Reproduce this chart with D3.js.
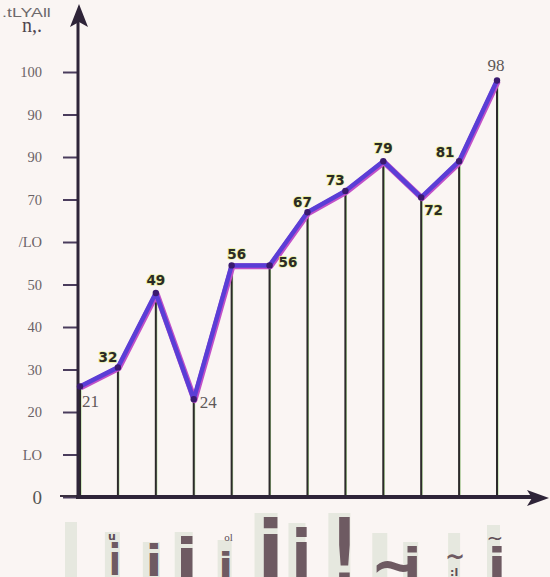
<!DOCTYPE html>
<html><head><meta charset="utf-8">
<script src="https://cdn.jsdelivr.net/npm/d3@7"></script>
<style>html,body{margin:0;padding:0;background:#faf5f3;}svg{display:block;}</style>
</head><body><svg id="c" width="550" height="577"></svg>
<script>
// ---- data ----
const categories = ["", "i", "i", "i", "i", "i", "i", "!", "~", "i", "~", "i"];
const categoryMarks = ["", "u", "", "", "ol", "", "", "", "", "", ":l", "~"];
const values = [26, 30.5, 48, 23, 54.5, 54.5, 67, 72, 79, 70.5, 79, 98];
const pointLabels = ["21", "32", "49", "24", "56", "56", "67", "73", "79", "72", "81", "98"];
const yTickValues = [0, 10, 20, 30, 40, 50, 60, 70, 80, 90, 100];
const yTickLabels = ["0", "LO", "20", "30", "40", "50", "/LO", "70", "90", "90", "100"];
const titleLines = [".tLYAll", "n,."];

// ---- styles (not data) ----
const serifIdx = new Set([0, 3, 11]);
// label offsets: [dx, dy, anchor]
const labelPos = [[2,20,"start"],[-10,-5,"middle"],[0,-8,"middle"],[6,9,"start"],[5,-6,"middle"],[9,2,"start"],[-5,-5,"middle"],[-10,-6,"middle"],[0,-8,"middle"],[3,18,"start"],[-14,-4,"middle"],[-1,-10,"middle"]];
// glyph styles: dx, fontSize, baseline, scaleX, bg:[dxc, width, top]
const glyph = [
  {dx:-9, fs:0, base:0, sx:1, bg:[-9,12,522]},
  {dx:-3, fs:42, base:575, sx:0.85, bg:[-5.5,15,532]},
  {dx:-2, fs:42, base:576, sx:1.13, bg:[-4.5,17,542]},
  {dx:-7, fs:56, base:578, sx:1.17, bg:[-10,18,532]},
  {dx:-6, fs:33, base:577, sx:1.27, bg:[-7,14,540]},
  {dx:1, fs:78, base:577, sx:1.0, bg:[-3.5,23,513]},
  {dx:-6, fs:70, base:580, sx:0.85, bg:[-10.5,17,523]},
  {dx:-1, fs:100, base:590, sx:0.6, bg:[-6,22,513]},
  {dx:12, fs:60, base:586, sx:1.0, bg:[-3.5,15,533]},
  {dx:-9, fs:47, base:581, sx:1.14, bg:[-10.5,15,542]},
  {dx:-4, fs:24, base:565, sx:1.0, bg:[-5,12,533]},
  {dx:0, fs:47, base:581, sx:1.14, bg:[-3.5,13,525]}
];

const svg = d3.select("#c");
svg.append("rect").attr("width",550).attr("height",577).attr("fill","#faf5f3");

const x = d3.scalePoint().domain(d3.range(values.length)).range([80, 497]);
const y = d3.scaleLinear().domain([0, 100]).range([497, 72]);

// title fragments
svg.append("text").attr("transform","translate(2,17) scale(1.32,1)").attr("font-family","Liberation Sans, sans-serif")
  .attr("font-size",13.5).attr("fill","#6e6a6c").text(titleLines[0]);
svg.append("text").attr("x",22).attr("y",32).attr("font-family","Liberation Serif, serif")
  .attr("font-size",20).attr("fill","#4e4650").text(titleLines[1]);

// y axis with ticks
const yAxis = d3.axisLeft(y).tickValues(yTickValues).tickSize(15).tickPadding(21)
  .tickFormat((d,i)=>yTickLabels[i]);
const gy = svg.append("g").attr("transform","translate(78,0)").call(yAxis);
gy.select(".domain").remove();
gy.selectAll(".tick line").attr("stroke","#4a3c5c").attr("stroke-width",2);
gy.selectAll(".tick text").attr("font-family","Liberation Serif, serif").attr("font-size",14.5)
  .attr("fill","#6a6266");
gy.selectAll(".tick text").filter(d=>d===0).attr("font-size",19).attr("fill","#555");

// drop lines
svg.append("g").selectAll("line").data(values).join("line")
  .attr("x1",(d,i)=>x(i)+1).attr("x2",(d,i)=>x(i)+1).attr("y1",d=>y(d)).attr("y2",497)
  .attr("stroke","#a8d890").attr("stroke-width",1);
svg.append("g").selectAll("line").data(values).join("line")
  .attr("x1",(d,i)=>x(i)).attr("x2",(d,i)=>x(i)).attr("y1",d=>y(d)).attr("y2",497)
  .attr("stroke","#2c2a2a").attr("stroke-width",2);

// axes lines
svg.append("line").attr("x1",60).attr("x2",78).attr("y1",496).attr("y2",496)
  .attr("stroke","#3a3040").attr("stroke-width",2);
svg.append("line").attr("x1",76).attr("x2",535).attr("y1",497).attr("y2",497)
  .attr("stroke","#2e2438").attr("stroke-width",4);
svg.append("line").attr("x1",78).attr("x2",78).attr("y1",20).attr("y2",499)
  .attr("stroke","#2e2438").attr("stroke-width",3);
svg.append("path").attr("d","M79,4 L88,27 L79,22 L70,27 Z").attr("fill","#2e2438");
svg.append("path").attr("d","M549,498 L527,490 L532,498 L527,506 Z").attr("fill","#2e2438");

// line
const line = d3.line().x((d,i)=>x(i)).y(d=>y(d));
svg.append("path").datum(values).attr("d",line).attr("fill","none")
  .attr("stroke","#c050c8").attr("stroke-width",6).attr("stroke-linejoin","round")
  .attr("transform","translate(0.8,0.8)");
svg.append("path").datum(values).attr("d",line).attr("fill","none")
  .attr("stroke","#5a3ed6").attr("stroke-width",4.5).attr("stroke-linejoin","round");
svg.append("g").selectAll("circle").data(values).join("circle")
  .attr("cx",(d,i)=>x(i)).attr("cy",d=>y(d)).attr("r",3.2).attr("fill","#3a1a70");

// point labels
const lab = svg.append("g").selectAll("g").data(values).join("g");
lab.each(function(d,i){
  const g = d3.select(this);
  const [dx,dy,anc] = labelPos[i];
  const t = g.append("text").attr("x",x(i)+dx).attr("y",y(d)+dy).attr("text-anchor",anc).text(pointLabels[i]);
  if (serifIdx.has(i)) {
    t.attr("font-family","Liberation Serif, serif").attr("font-size",17).attr("fill","#5e5858");
  } else {
    t.attr("font-family","DejaVu Sans, sans-serif").attr("font-weight","bold").attr("font-size",13.5)
     .attr("fill","#2a2a26").attr("stroke","#e8ee9a").attr("stroke-width",1.4).attr("paint-order","stroke");
  }
});

// garbled category labels
const cg = svg.append("g");
categories.forEach((c,i)=>{
  const s = glyph[i];
  cg.append("rect").attr("x",x(i)+s.bg[0]-s.bg[1]/2).attr("y",s.bg[2]).attr("width",s.bg[1])
    .attr("height",577-s.bg[2]).attr("fill","#e6e8df");
});
categories.forEach((c,i)=>{
  const s = glyph[i];
  if (c) {
    const cx = x(i)+s.dx;
    cg.append("text").attr("transform",`translate(${cx},${s.base}) scale(${s.sx},1)`)
      .attr("text-anchor","middle").attr("font-family","DejaVu Sans, sans-serif").attr("font-weight","bold")
      .attr("font-size",s.fs).attr("fill","#6e5a62").text(c);
  }
});
// small marks
const markStyle = {1:{dx:-6,y:540,fs:11,w:"bold"},4:{dx:-3,y:541,fs:11,w:"normal"},10:{dx:-5,y:576,fs:11,w:"bold"},11:{dx:-2,y:545,fs:20,w:"normal"}};
categoryMarks.forEach((m,i)=>{
  if (!m) return;
  const s = markStyle[i];
  cg.append("text").attr("x",x(i)+s.dx).attr("y",s.y).attr("text-anchor","middle")
    .attr("font-family", i===4 ? "Liberation Serif, serif" : "DejaVu Sans, sans-serif")
    .attr("font-weight",s.w).attr("font-size",s.fs).attr("fill","#5e4e56").text(m);
});
</script></body></html>
